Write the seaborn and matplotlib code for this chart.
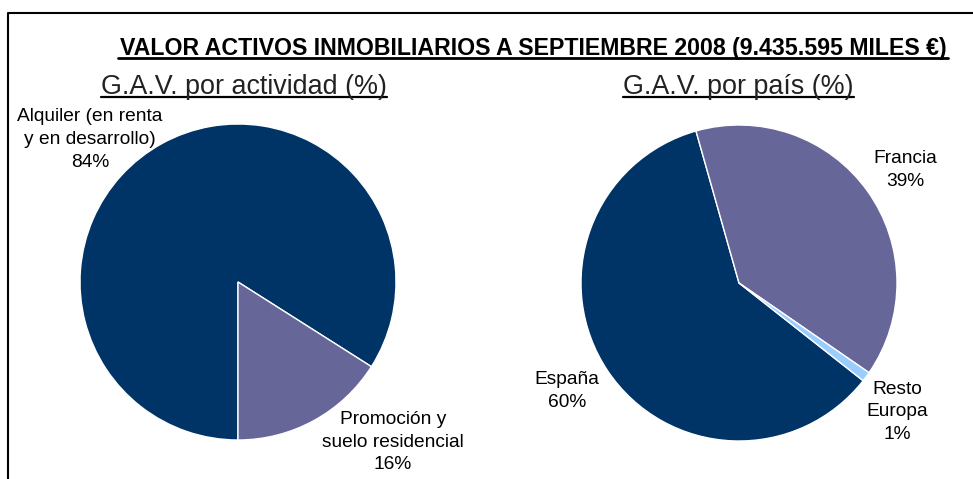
import matplotlib
matplotlib.use("Agg")
import matplotlib.pyplot as plt
import seaborn as sns
from matplotlib.lines import Line2D

# ---- data ----
title_text = "VALOR ACTIVOS INMOBILIARIOS A SEPTIEMBRE 2008 (9.435.595 MILES €)"
left_title = "G.A.V. por actividad (%)"
right_title = "G.A.V. por país (%)"
activity_labels = ["Alquiler (en renta\ny en desarrollo)", "Promoción y\nsuelo residencial"]
activity_values = [84, 16]
country_labels = ["España", "Francia", "Resto\nEuropa"]
country_values = [60, 39, 1]

activity_colors = ["#003366", "#666699"]
country_colors = ["#003366", "#666699", "#99CCFF"]

sns.set_theme(style="white")
plt.rcParams["font.family"] = ["Liberation Sans", "DejaVu Sans"]

W, H = 973, 479
fig = plt.figure(figsize=(W / 100, H / 100), dpi=100)
fig.patch.set_facecolor("white")


def ax_rect(cx, cy, r):
    return [(cx - r) / W, 1 - (cy + r) / H, 2 * r / W, 2 * r / H]


def draw_pie(rect, values, colors, startangle):
    ax = fig.add_axes(rect)
    ax.pie(values, colors=colors, startangle=startangle, counterclock=False,
           radius=1, wedgeprops=dict(edgecolor="white", linewidth=1.0))
    ax.set_xlim(-1, 1)
    ax.set_ylim(-1, 1)
    ax.set_aspect("equal")
    ax.axis("off")
    return ax


R = 158
axL = draw_pie(ax_rect(238, 282, R), activity_values, activity_colors, -90)
axR = draw_pie(ax_rect(739, 283, R), country_values, country_colors, -38.2)

lab_kw = dict(ha="center", va="center", fontsize=13.8, color="black",
              linespacing=1.45, clip_on=False)

left_pos = [(-0.937, 0.90), (0.981, -1.013)]
for (x, y), lab, v in zip(left_pos, activity_labels, activity_values):
    axL.text(x, y, f"{lab}\n{v}%", **lab_kw)

right_pos = [(-1.089, -0.684), (1.05, 0.715), (1.0, -0.816)]
for (x, y), lab, v in zip(right_pos, country_labels, country_values):
    axR.text(x, y, f"{lab}\n{v}%", **lab_kw)

# titles
t_main = fig.text(533 / W, 1 - 55 / H, title_text, ha="center", va="baseline",
                  fontsize=16.65, fontweight="bold", color="black")
t_left = fig.text(244 / W, 1 - 94 / H, left_title, ha="center", va="baseline",
                  fontsize=19.4, color="#222222")
t_right = fig.text(738.5 / W, 1 - 94 / H, right_title, ha="center", va="baseline",
                   fontsize=19.4, color="#222222")

fig.canvas.draw()
renderer = fig.canvas.get_renderer()


def underline(t, y_px, lw, pad=0):
    bb = t.get_window_extent(renderer)
    fig.add_artist(Line2D([(bb.x0 - pad) / W, (bb.x1 + pad) / W],
                          [1 - y_px / H, 1 - y_px / H],
                          transform=fig.transFigure, color="black", lw=lw))


underline(t_main, 58, 2.0, pad=2)
underline(t_left, 97, 1.6)
underline(t_right, 97, 1.6)

# frame border (top and left edges visible)
fig.add_artist(Line2D([8 / W, 8 / W, 1.0], [0.0, 1 - 13 / H, 1 - 13 / H],
                      transform=fig.transFigure, color="black", lw=1.5))

fig.savefig("out.png", dpi=100, facecolor="white")
